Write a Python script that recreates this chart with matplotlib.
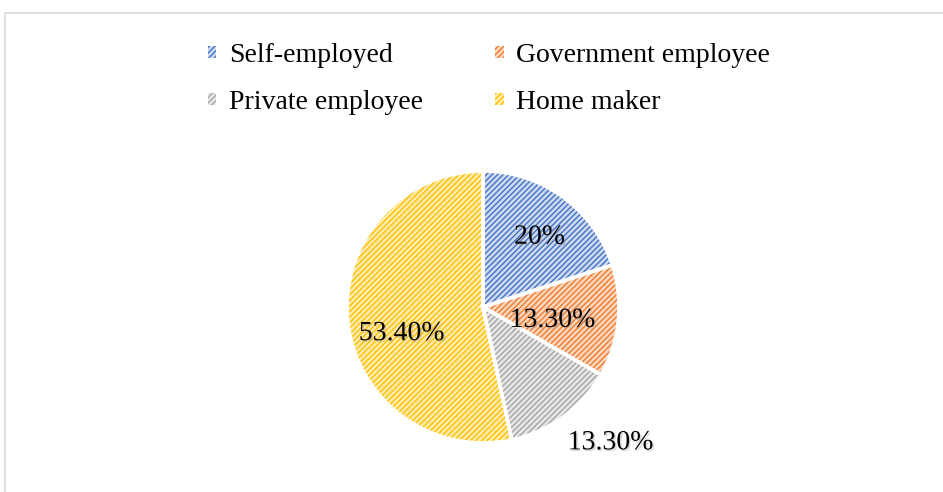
import numpy as np
import matplotlib.pyplot as plt
import matplotlib.patheffects as pe
from matplotlib.patches import Rectangle

categories = ["Self-employed", "Government employee", "Private employee", "Home maker"]
shares = [20.0, 13.3, 13.3, 53.4]

hatch_colors = ["#4472C4", "#ED7D31", "#A5A5A5", "#FFC000"]
face_colors = ["#cdd9f1", "#fbd5bc", "#e6e6e6", "#ffebad"]

# label placement per slice: radial distance (fraction of radius) and angle shift in degrees
label_radius = [0.66, 0.52, 1.37, 0.63]
label_shift = [-3, -5, 7, 12]

plt.rcParams["font.family"] = ["Liberation Serif", "DejaVu Serif"]
plt.rcParams["hatch.linewidth"] = 1.0

W, H = 943, 492
fig = plt.figure(figsize=(W / 100, H / 100), dpi=100)

# outer chart frame (right and bottom run off the canvas)
fig.patches.append(Rectangle((5 / W, -0.05), 1.0, 1 - 13 / H + 0.05,
                             transform=fig.transFigure, fill=False,
                             edgecolor="#d9d9d9", linewidth=1.2))

cx, cy, r = 483, 307, 136
ax = fig.add_axes([(cx - r) / W, (H - cy - r) / H, 2 * r / W, 2 * r / H])

# hatched fill first, then white separators on top
wedges, _ = ax.pie(shares, startangle=90, counterclock=False,
                   colors=face_colors,
                   wedgeprops=dict(linewidth=0, hatch="//////"))
for w, hc in zip(wedges, hatch_colors):
    w.set_edgecolor(hc)

ax.pie(shares, startangle=90, counterclock=False,
       wedgeprops=dict(fill=False, edgecolor="white", linewidth=2.6))
ax.set_xlim(-1, 1)
ax.set_ylim(-1, 1)
ax.set_aspect("equal")
ax.axis("off")

shadow = [pe.withSimplePatchShadow(offset=(1.2, -1.2), shadow_rgbFace="#999999", alpha=0.35)]
for w, v, rd, sh in zip(wedges, shares, label_radius, label_shift):
    ang = np.deg2rad((w.theta1 + w.theta2) / 2 + sh)
    txt = f"{v:g}%" if float(v).is_integer() else f"{v:.2f}%"
    ax.text(rd * np.cos(ang), rd * np.sin(ang), txt, ha="center", va="center",
            fontsize=20, color="black", path_effects=shadow)

# legend fills column-wise, so reorder to get row-wise entries
order = [0, 2, 1, 3]
fig.legend([wedges[i] for i in order], [categories[i] for i in order],
           ncol=2, loc="center", bbox_to_anchor=(489 / W, 1 - 79 / H),
           frameon=False, fontsize=20, handlelength=0.3, handleheight=0.3,
           handletextpad=0.45, columnspacing=2.6, labelspacing=0.8)

fig.savefig("out.png", dpi=100)
